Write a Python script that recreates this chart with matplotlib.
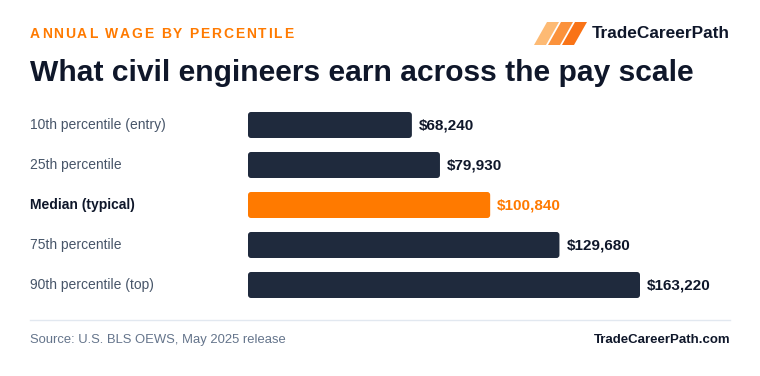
import matplotlib
matplotlib.use("Agg")
import matplotlib.pyplot as plt
from matplotlib.patches import FancyBboxPatch, Polygon
from matplotlib.lines import Line2D

plt.rcParams['font.family'] = ['Liberation Sans', 'DejaVu Sans']

categories = ["10th percentile (entry)", "25th percentile", "Median (typical)",
              "75th percentile", "90th percentile (top)"]
values = [68240, 79930, 100840, 129680, 163220]
value_labels = ["$68,240", "$79,930", "$100,840", "$129,680", "$163,220"]
highlight = 2

W, H = 760, 376
fig = plt.figure(figsize=(W / 100, H / 100), dpi=100)
fig.patch.set_facecolor("white")
renderer = fig.canvas.get_renderer()

def fx(x): return x / W
def fy(y): return 1 - y / H

NAVY = "#1F2A3D"
ORANGE = "#FF7A00"
DARK = "#0F172A"
GRAY = "#475569"

def spaced_text(x, y, s, spacing, **kw):
    cur = x
    for ch in s:
        t = fig.text(fx(cur), fy(y), ch, ha="left", va="center", **kw)
        if ch == " ":
            probe = fig.text(0, 0, "a a", **kw)
            probe2 = fig.text(0, 0, "aa", **kw)
            w = probe.get_window_extent(renderer).width - probe2.get_window_extent(renderer).width
            probe.remove(); probe2.remove()
        else:
            w = t.get_window_extent(renderer).width
        cur += w + spacing

# header
spaced_text(30, 34, "ANNUAL WAGE BY PERCENTILE", 1.8, color=ORANGE, fontsize=10,
            fontweight="bold")
fig.text(fx(30), fy(73), "What civil engineers earn across the pay scale", color=DARK,
         fontsize=21.6, fontweight="bold", va="center", ha="left")

# logo
logo_colors = ["#FDBA74", "#FB923C", "#F97316"]
for i, c in enumerate(logo_colors):
    x0 = 534 + 14 * i
    pts = [(x0, 45), (x0 + 12, 45), (x0 + 25, 22), (x0 + 13, 22)]
    fig.patches.append(Polygon([(fx(a), fy(b)) for a, b in pts], closed=True,
                               transform=fig.transFigure, facecolor=c, edgecolor="none"))
fig.text(fx(730), fy(34), "TradeCareerPath", color=DARK, fontsize=12.4,
         fontweight="bold", va="center", ha="right")

# bars axes
ax_left, ax_right = 248, 730
ax_top, ax_bottom = 105, 305
ax = fig.add_axes([fx(ax_left), fy(ax_bottom), (ax_right - ax_left) / W,
                   (ax_bottom - ax_top) / H])
px_per_unit = (640 - 248) / 163220
ax.set_xlim(0, (ax_right - ax_left) / px_per_unit)
ax.set_ylim(len(values) - 0.5, -0.5)
ax.axis("off")

bar_h = 0.65
x_per_px = 1 / px_per_unit
y_per_px = 1 / 40
for i, (v, lab) in enumerate(zip(values, value_labels)):
    col = ORANGE if i == highlight else NAVY
    rp = FancyBboxPatch((0, i - bar_h / 2), v, bar_h,
                        boxstyle="round,pad=0,rounding_size=%f" % (3 * x_per_px),
                        mutation_aspect=y_per_px / x_per_px,
                        facecolor=col, edgecolor="none")
    ax.add_patch(rp)
    ax.text(v + 7 * x_per_px, i, lab, va="center", ha="left", fontsize=11,
            fontweight="bold", color=ORANGE if i == highlight else DARK)
    ax.text(-218 * x_per_px, i, categories[i], va="center", ha="left",
            fontsize=10, fontweight="bold" if i == highlight else "normal",
            color=DARK if i == highlight else GRAY, clip_on=False)

# footer
fig.add_artist(Line2D([fx(30), fx(730)], [fy(320), fy(320)], color="#E2E8F0", lw=1))
fig.text(fx(30), fy(340), "Source: U.S. BLS OEWS, May 2025 release", color="#64748B",
         fontsize=9.4, va="center", ha="left")
fig.text(fx(730), fy(340), "TradeCareerPath.com", color=DARK, fontsize=9.5,
         fontweight="bold", va="center", ha="right")

fig.savefig("out.png", dpi=100, facecolor="white")
